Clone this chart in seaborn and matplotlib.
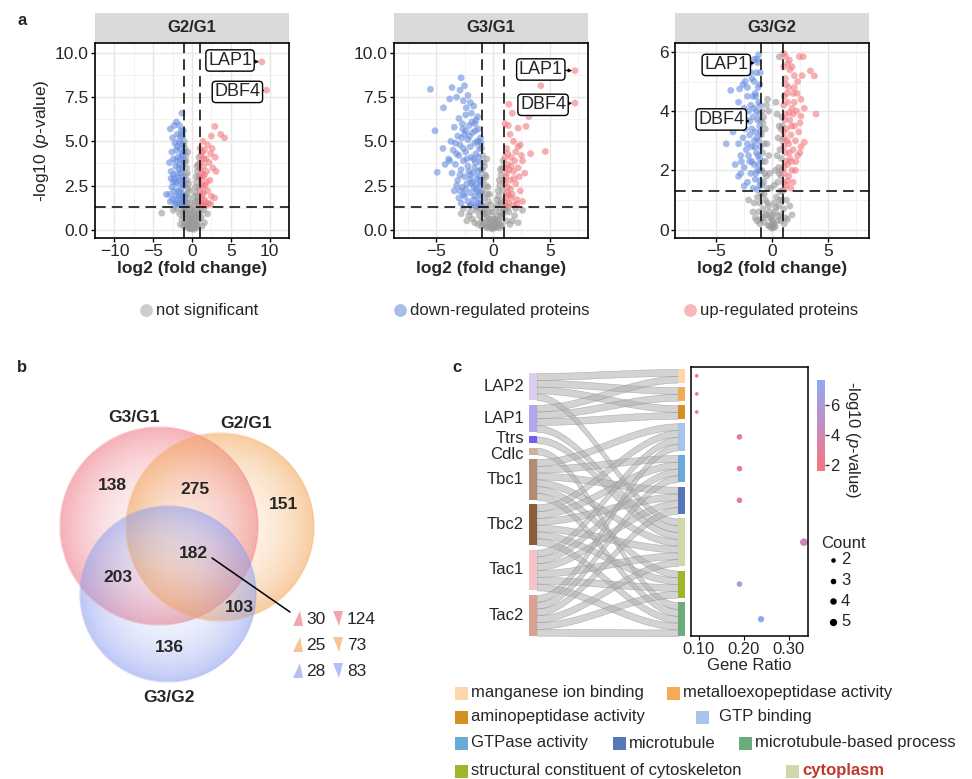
import numpy as np
import pandas as pd
import matplotlib
matplotlib.use("Agg")
import matplotlib.pyplot as plt
import seaborn as sns
from matplotlib.patches import Circle, Rectangle, Polygon
from matplotlib.colors import LinearSegmentedColormap, Normalize, to_rgb
from matplotlib.cm import ScalarMappable

# ---------------- data ----------------
# panel a : volcano points (log2 fold change, -log10 p)
g2g1_up = [(9.0, 9.5), (4.0, 9.1), (9.6, 7.9), (2.95, 5.85), (3.7, 5.4), (4.2, 5.2), (2.5, 5.3), (1.4, 5.0),
           (2.0, 4.8), (2.6, 4.6), (1.6, 4.5), (2.4, 4.3), (1.2, 4.2), (3.0, 4.1), (1.8, 4.0), (2.2, 3.8),
           (1.5, 3.6), (2.7, 3.5), (1.1, 3.4), (1.9, 3.3), (3.1, 3.3), (1.4, 3.0), (2.3, 2.8), (1.2, 2.6),
           (1.7, 2.5), (2.0, 2.2), (1.3, 2.0), (2.5, 1.9), (1.6, 1.7), (2.9, 1.8), (1.1, 1.5), (2.1, 1.5),
           (1.4, 1.4), (1.8, 1.35), (1.05, 4.6), (1.3, 4.4), (1.5, 4.0), (1.05, 3.8), (1.25, 3.2), (1.6, 3.1),
           (1.05, 2.9), (1.45, 2.5), (1.9, 2.7), (1.05, 2.2), (1.5, 2.1), (1.2, 1.8), (1.05, 1.4), (2.4, 1.45),
           (1.7, 1.55)]
g2g1_down = [(-1.3, 6.6), (-2.0, 6.1), (-2.3, 5.9), (-1.6, 5.9), (-2.8, 5.7), (-1.4, 5.6), (-1.9, 5.4),
             (-1.2, 5.3), (-2.5, 5.2), (-1.7, 5.0), (-2.2, 4.9), (-1.1, 4.8), (-1.5, 4.6), (-2.0, 4.5),
             (-2.6, 4.4), (-1.3, 4.3), (-1.8, 4.1), (-2.4, 4.0), (-1.1, 3.9), (-2.9, 3.8), (-1.6, 3.7),
             (-2.1, 3.6), (-1.3, 3.4), (-2.7, 3.3), (-1.9, 3.2), (-1.2, 3.0), (-2.3, 2.9), (-1.6, 2.8),
             (-2.0, 2.6), (-1.1, 2.5), (-2.6, 2.4), (-1.4, 2.3), (-1.8, 2.2), (-3.3, 2.0), (-2.9, 2.0),
             (-1.2, 2.0), (-2.2, 1.9), (-1.5, 1.8), (-2.5, 1.7), (-1.1, 1.6), (-1.9, 1.5), (-1.3, 1.4),
             (-2.1, 2.7), (-1.7, 3.5), (-2.4, 3.1), (-1.4, 4.9), (-1.9, 4.7), (-1.2, 4.2), (-2.2, 1.4),
             (-2.8, 1.6), (-1.05, 4.4), (-1.5, 4.0), (-2.0, 3.9), (-1.2, 3.6), (-1.45, 3.2), (-1.75, 2.95),
             (-1.05, 2.8), (-2.45, 2.7), (-1.3, 2.6), (-1.55, 2.1), (-1.05, 1.9), (-1.7, 1.9), (-1.25, 1.7),
             (-2.0, 1.6), (-1.6, 1.45), (-1.05, 1.35), (-2.3, 2.2), (-2.7, 2.9), (-1.5, 5.3), (-1.1, 5.6)]
g2g1_ns = [(-1.0, 5.0), (-0.9, 4.6), (-0.8, 4.2), (-0.95, 3.8), (-0.7, 3.5), (-0.85, 3.1), (-0.6, 2.8),
           (-0.9, 2.5), (-0.5, 2.3), (-0.75, 2.0), (-0.4, 1.8), (-0.95, 1.6), (-0.6, 1.5), (-0.3, 1.2),
           (-0.8, 1.1), (-0.5, 0.9), (-0.2, 0.8), (-1.0, 0.7), (-0.7, 0.6), (-0.35, 0.5), (-0.15, 0.3),
           (-0.55, 0.3), (-0.9, 0.4), (0.9, 4.1), (0.8, 3.7), (0.7, 3.3), (0.95, 3.0), (0.6, 2.7),
           (0.85, 2.4), (0.5, 2.1), (0.75, 1.9), (0.4, 1.6), (0.9, 1.4), (0.6, 1.2), (0.3, 1.0), (0.8, 0.9),
           (0.5, 0.7), (0.2, 0.5), (0.7, 0.5), (0.95, 0.6), (0.4, 0.3), (0.1, 0.2), (0.0, 0.1), (-0.1, 0.05),
           (0.15, 0.1), (0.05, 0.35), (-0.25, 0.15), (0.3, 0.15), (-0.05, 0.6), (0.1, 0.9), (-0.45, 0.1),
           (0.55, 0.1), (-3.9, 0.94), (-2.4, 1.1), (-1.6, 0.9), (-1.3, 0.6), (-1.9, 1.2), (1.5, 1.1),
           (1.2, 0.7), (2.0, 0.9), (-1.2, 1.0), (1.6, 0.4), (-1.5, 0.3), (1.3, 0.2), (-1.1, 0.2),
           (-0.3, 2.2), (-0.45, 2.6), (-0.6, 3.2), (-0.75, 3.9), (-0.55, 4.4), (-0.2, 1.5), (-0.1, 1.1),
           (0.25, 1.3), (0.35, 1.9), (0.45, 2.4), (0.55, 3.0), (0.65, 3.6), (0.2, 0.7), (-0.4, 0.7),
           (-0.6, 0.15), (0.6, 0.25), (0.8, 0.2), (-0.8, 0.3), (-0.25, 0.4), (0.35, 0.45), (-0.05, 0.25),
           (0.05, 0.15), (-0.7, 0.9), (0.7, 0.8), (-0.9, 1.0), (0.9, 0.9), (-1.05, 1.2), (1.05, 1.1),
           (-0.65, 1.3), (0.65, 1.6), (-0.3, 0.05), (0.25, 0.02), (-0.85, 1.9), (0.85, 1.7)]

g3g1_up = [(7.2, 9.0), (7.2, 7.17), (4.2, 8.15), (1.4, 7.1), (2.6, 7.4), (3.15, 6.4), (2.9, 5.85), (2.2, 5.75),
           (1.05, 6.0), (4.6, 4.43), (3.3, 4.3), (1.5, 5.4), (1.8, 5.0), (2.4, 4.8), (1.2, 4.6), (2.0, 4.4),
           (1.6, 4.1), (2.6, 3.9), (1.3, 3.7), (2.2, 3.5), (1.8, 3.3), (2.8, 3.2), (1.1, 3.0), (1.5, 2.8),
           (2.0, 2.6), (1.3, 2.4), (2.4, 2.2), (1.7, 2.0), (1.1, 1.8), (2.1, 1.7), (1.4, 1.5), (2.6, 1.6),
           (1.8, 1.4), (1.2, 1.35), (2.3, 3.0), (1.6, 3.6), (2.5, 4.2), (1.05, 4.1), (1.3, 4.3), (1.05, 3.5),
           (1.2, 3.2), (1.4, 3.4), (1.05, 2.6), (1.25, 2.1), (1.05, 1.55), (1.55, 2.3), (1.85, 2.9),
           (1.6, 1.8), (1.35, 1.95), (1.9, 3.9), (2.2, 4.7), (1.35, 5.9), (1.7, 6.6), (2.1, 1.45)]
g3g1_down = [(-5.5, 7.95), (-5.1, 5.6), (-4.9, 3.25), (-4.2, 3.7), (-4.35, 6.9), (-3.6, 8.05), (-2.8, 8.6),
             (-2.9, 7.9), (-2.5, 8.15), (-3.8, 7.4), (-3.2, 7.5), (-2.6, 7.3), (-2.2, 7.6), (-2.0, 7.2),
             (-1.7, 7.0), (-1.9, 6.6), (-2.4, 6.5), (-3.0, 6.3), (-1.5, 6.2), (-2.7, 6.0), (-2.1, 5.9),
             (-3.4, 5.8), (-1.3, 5.7), (-1.8, 5.5), (-2.5, 5.4), (-3.1, 5.3), (-1.1, 5.2), (-2.2, 5.1),
             (-3.7, 5.0), (-1.6, 4.9), (-2.9, 4.8), (-2.0, 4.7), (-1.2, 4.6), (-3.5, 4.5), (-2.4, 4.4),
             (-1.5, 4.3), (-3.0, 4.2), (-1.9, 4.1), (-2.6, 3.9), (-1.1, 3.8), (-3.3, 3.7), (-2.2, 3.6),
             (-1.6, 3.5), (-2.8, 3.4), (-1.3, 3.3), (-3.6, 3.2), (-2.0, 3.1), (-2.5, 3.0), (-1.4, 2.9),
             (-3.1, 2.8), (-1.8, 2.7), (-2.3, 2.6), (-1.1, 2.5), (-2.7, 2.4), (-1.5, 2.3), (-3.4, 2.2),
             (-2.0, 2.1), (-1.2, 2.0), (-2.5, 1.9), (-3.0, 1.8), (-1.7, 1.7), (-2.2, 1.6), (-1.3, 1.5),
             (-2.8, 1.5), (-1.9, 1.4), (-1.5, 1.35), (-2.4, 5.6), (-1.4, 5.0), (-2.6, 4.6), (-1.7, 4.0),
             (-2.1, 3.3), (-2.9, 3.1), (-1.4, 2.2), (-2.6, 2.0), (-1.9, 2.6), (-3.2, 2.5), (-1.2, 3.0),
             (-2.3, 4.0), (-3.9, 4.0), (-1.6, 6.0), (-1.05, 4.9), (-1.25, 4.1), (-1.55, 3.8), (-1.05, 3.4),
             (-1.75, 3.2), (-1.1, 2.8), (-1.35, 2.6), (-1.05, 2.1), (-1.6, 1.9), (-1.15, 1.7), (-1.05, 1.45),
             (-2.0, 1.35), (-3.3, 4.9), (-2.75, 5.2), (-3.2, 4.3), (-2.05, 5.3), (-1.35, 6.4), (-2.35, 6.9),
             (-1.85, 6.1), (-2.65, 5.7), (-1.55, 5.6), (-1.2, 5.0), (-3.8, 3.9), (-4.4, 4.6), (-2.4, 2.3),
             (-2.0, 2.85), (-2.9, 2.2), (-1.7, 2.4)]
g3g1_ns = [(-1.0, 4.6), (-0.9, 4.2), (-0.8, 3.8), (-0.95, 3.4), (-0.7, 3.1), (-0.85, 2.8), (-0.6, 2.5),
           (-0.9, 2.2), (-0.5, 2.0), (-0.75, 1.8), (-0.4, 1.6), (-0.95, 1.4), (-0.6, 1.2), (-0.3, 1.0),
           (-0.8, 0.9), (-0.5, 0.7), (-0.2, 0.6), (-1.0, 0.5), (-0.7, 0.4), (-0.35, 0.3), (-0.15, 0.2),
           (0.9, 3.9), (0.8, 3.5), (0.7, 3.1), (0.95, 2.8), (0.6, 2.5), (0.85, 2.2), (0.5, 1.9), (0.75, 1.6),
           (0.4, 1.4), (0.9, 1.2), (0.6, 1.0), (0.3, 0.8), (0.8, 0.7), (0.5, 0.5), (0.2, 0.3), (0.7, 0.3),
           (0.0, 0.1), (-0.1, 0.05), (0.15, 0.1), (0.05, 0.35), (-0.25, 0.15), (0.3, 0.15), (0.1, 0.6),
           (-0.45, 0.1), (0.55, 0.1), (-1.5, 1.1), (-2.0, 1.0), (-2.6, 1.2), (-1.2, 0.8), (-1.8, 0.6),
           (1.4, 1.0), (1.9, 0.8), (2.6, 1.1), (1.2, 0.5), (-1.3, 0.3), (1.5, 0.3), (-2.3, 0.5), (2.2, 0.4),
           (-0.3, 2.0), (-0.45, 2.4), (-0.6, 3.0), (-0.75, 3.6), (-0.55, 4.0), (-0.2, 1.4), (-0.1, 1.0),
           (0.25, 1.2), (0.35, 1.7), (0.45, 2.2), (0.55, 2.8), (0.65, 3.4), (0.2, 0.6), (-0.4, 0.6),
           (-0.6, 0.15), (0.6, 0.25), (0.8, 0.2), (-0.8, 0.3), (-0.25, 0.4), (0.35, 0.45), (-0.05, 0.25),
           (0.05, 0.15), (-0.7, 0.9), (0.7, 0.8), (-0.9, 1.0), (0.9, 0.9), (-1.1, 1.2), (1.05, 1.1),
           (-0.65, 1.3), (0.65, 1.5), (-1.6, 0.4), (-2.1, 0.8), (1.7, 0.5), (-1.4, 1.25), (1.3, 1.25),
           (-2.8, 0.9), (-1.0, 0.2), (2.0, 1.2)]

g3g2_up = [(1.05, 5.95), (1.56, 5.72), (2.45, 5.84), (2.8, 5.84), (3.44, 5.36), (3.8, 5.19), (3.95, 3.9),
           (2.9, 2.95), (2.6, 2.8), (2.6, 3.83), (2.15, 2.3), (1.6, 5.4), (2.0, 5.2), (1.2, 5.1), (2.3, 5.0),
           (1.5, 4.8), (1.9, 4.6), (1.1, 4.5), (2.6, 4.4), (1.4, 4.3), (1.8, 4.1), (2.2, 4.0), (1.2, 3.9),
           (1.6, 3.7), (2.0, 3.5), (1.3, 3.4), (2.4, 3.3), (1.7, 3.2), (1.1, 3.1), (2.1, 3.0), (1.5, 2.9),
           (1.9, 2.7), (1.2, 2.6), (2.3, 2.5), (1.6, 2.4), (1.4, 2.2), (1.8, 2.0), (1.1, 1.9), (1.5, 1.8),
           (1.9, 1.6), (1.3, 1.5), (1.7, 1.4), (1.1, 1.35), (2.0, 4.8), (1.4, 5.6), (2.5, 3.6), (1.9, 3.9),
           (1.05, 5.5), (1.25, 4.9), (1.05, 4.2), (1.35, 4.6), (1.15, 3.7), (1.55, 3.95), (1.05, 3.3),
           (1.35, 3.0), (1.75, 3.5), (1.05, 2.8), (1.25, 2.3), (1.55, 2.6), (1.05, 2.1), (1.4, 1.65),
           (1.75, 2.3), (1.05, 1.6), (2.1, 2.0), (2.0, 4.3), (2.7, 5.2), (1.8, 5.5), (2.25, 4.6), (2.9, 4.1),
           (1.2, 5.85), (2.5, 2.6)]
g3g2_down = [(-1.3, 5.64), (-2.0, 3.66), (-1.2, 5.9), (-1.6, 5.75), (-2.0, 5.6), (-2.3, 5.4), (-1.4, 5.3),
             (-1.8, 5.1), (-1.1, 4.9), (-2.6, 4.9), (-3.7, 4.7), (-2.9, 4.75), (-1.5, 4.6), (-2.2, 4.5),
             (-1.2, 4.3), (-1.9, 4.2), (-2.5, 4.1), (-1.4, 4.0), (-3.2, 3.9), (-1.7, 3.8), (-2.3, 3.7),
             (-1.1, 3.5), (-2.8, 3.5), (-3.5, 3.3), (-1.5, 3.3), (-2.0, 3.2), (-2.6, 3.1), (-1.2, 3.0),
             (-4.1, 2.9), (-3.0, 2.9), (-1.8, 2.8), (-2.3, 2.7), (-1.4, 2.6), (-2.8, 2.5), (-1.1, 2.4),
             (-2.0, 2.3), (-1.6, 2.2), (-2.5, 2.1), (-1.3, 2.0), (-1.9, 1.9), (-3.0, 1.8), (-1.5, 1.7),
             (-2.2, 1.6), (-2.5, 1.47), (-1.1, 1.5), (-1.7, 1.4), (-1.3, 1.35), (-2.4, 5.0), (-1.7, 4.5),
             (-2.1, 4.0), (-1.3, 3.7), (-2.7, 3.9), (-1.6, 3.0), (-2.1, 2.5), (-1.2, 2.2), (-2.8, 1.9),
             (-1.05, 5.3), (-1.25, 4.8), (-1.05, 4.2), (-1.45, 4.5), (-1.15, 3.9), (-1.6, 4.1), (-1.05, 3.3),
             (-1.35, 3.1), (-1.8, 3.4), (-1.05, 2.8), (-1.25, 2.5), (-1.55, 2.8), (-1.05, 2.0), (-1.45, 1.9),
             (-1.8, 2.3), (-1.05, 1.65), (-2.2, 2.9), (-2.4, 3.4), (-1.9, 5.3), (-1.6, 5.0), (-2.2, 4.8),
             (-3.0, 4.3), (-1.35, 5.75), (-2.75, 2.3), (-3.3, 2.2)]
g3g2_ns = [(0.66, 5.83), (-0.9, 4.0), (-0.8, 3.6), (-0.95, 3.2), (-0.7, 2.9), (-0.85, 2.6), (-0.6, 2.3),
           (-0.9, 2.0), (-0.5, 1.8), (-0.75, 1.6), (-0.4, 1.4), (-0.95, 1.2), (-0.6, 1.0), (-0.3, 0.8),
           (-0.8, 0.7), (-0.5, 0.5), (-0.2, 0.4), (-1.0, 0.35), (-0.7, 0.25), (-0.35, 0.15), (0.9, 3.8),
           (0.8, 3.4), (0.95, 3.0), (0.7, 2.7), (0.85, 2.4), (0.6, 2.1), (0.8, 1.8), (0.5, 1.6), (0.7, 1.3),
           (0.4, 1.1), (0.9, 1.0), (0.6, 0.8), (0.3, 0.6), (0.8, 0.5), (0.5, 0.3), (0.2, 0.2), (0.0, 0.05),
           (-0.1, 0.1), (0.15, 0.08), (0.05, 0.3), (-0.2, 0.12), (0.3, 0.1), (0.1, 0.5), (-1.3, 1.1),
           (-1.6, 0.9), (-2.1, 1.0), (-1.2, 0.6), (-1.5, 0.4), (1.3, 1.0), (1.6, 0.8), (1.2, 0.4),
           (-1.1, 0.2), (1.1, 0.2), (-0.4, 4.4), (-0.3, 4.0), (0.35, 4.3), (-0.3, 2.5), (-0.45, 2.9),
           (-0.6, 3.4), (-0.75, 3.8), (-0.2, 1.9), (-0.1, 1.4), (0.2, 1.5), (0.3, 2.0), (0.45, 2.5),
           (0.55, 3.1), (0.65, 3.5), (0.2, 0.9), (-0.4, 0.9), (-0.6, 0.5), (0.6, 0.45), (0.8, 0.3),
           (-0.8, 0.4), (-0.25, 0.6), (0.35, 0.75), (-0.05, 0.4), (0.05, 0.2), (-0.7, 1.2), (0.7, 1.0),
           (-0.9, 1.5), (0.9, 1.3), (-1.1, 0.9), (1.05, 0.7), (-0.65, 1.9), (0.65, 1.9), (-0.85, 2.3),
           (0.85, 2.0), (-1.0, 3.7), (0.95, 3.5), (-0.5, 4.2), (0.45, 3.9), (-1.7, 0.6), (1.8, 0.5),
           (-1.35, 0.3), (1.4, 0.35)]

# labelled proteins: (name, x, y)
g2g1_labels = [("LAP1", 9.0, 9.5), ("DBF4", 9.6, 7.9)]
g3g1_labels = [("LAP1", 7.2, 9.0), ("DBF4", 7.2, 7.17)]
g3g2_labels = [("LAP1", -1.3, 5.64), ("DBF4", -2.0, 3.66)]

# panel b : venn counts
venn_sets = ["G3/G1", "G2/G1", "G3/G2"]
venn_counts = ["138", "275", "151", "182", "203", "103", "136"]
core_up = [30, 25, 28]
core_down = [124, 73, 83]

# panel c : sankey + enrichment
genes = ["LAP2", "LAP1", "Ttrs", "Cdlc", "Tbc1", "Tbc2", "Tac1", "Tac2"]
gene_colors = ["#dacdf0", "#b1a9ef", "#6f5ff2", "#cbb09e", "#b08c77", "#8c5b38", "#f3c3c6", "#d9a292"]
terms = ["manganese ion binding", "metalloexopeptidase activity", "aminopeptidase activity", "GTP binding",
         "GTPase activity", "microtubule", "cytoplasm", "structural constituent of cytoskeleton",
         "microtubule-based process"]
term_colors = ["#fdd6ac", "#f3ab57", "#d4911f", "#a6c3ec", "#6ba9d9", "#5877bb", "#cfd7ab", "#9cb828", "#6cab7a"]
gene_terms = {
    "LAP2": [0, 1, 2, 6],
    "LAP1": [0, 1, 2, 6],
    "Ttrs": [6],
    "Cdlc": [8],
    "Tbc1": [3, 4, 5, 6, 7, 8],
    "Tbc2": [3, 4, 5, 6, 7, 8],
    "Tac1": [3, 4, 5, 6, 7, 8],
    "Tac2": [3, 4, 5, 6, 7, 8],
}
term_count = [2, 2, 2, 4, 4, 4, 7, 4, 5]
gene_ratio = [0.095, 0.095, 0.095, 0.19, 0.19, 0.19, 0.333, 0.19, 0.238]
term_logp = [1.8, 1.8, 1.8, 2.6, 2.6, 2.6, 4.4, 6.2, 7.4]

# ---------------- style ----------------
sns.set_style("white")
plt.rcParams["font.family"] = ["Liberation Sans", "DejaVu Sans"]
plt.rcParams["mathtext.fontset"] = "custom"
plt.rcParams["mathtext.it"] = "Liberation Sans:italic"
plt.rcParams["mathtext.rm"] = "Liberation Sans"

W, H = 972, 779
fig = plt.figure(figsize=(W / 100, H / 100), dpi=100)


def px_rect(x0, y0, x1, y1):
    return [x0 / W, 1 - y1 / H, (x1 - x0) / W, (y1 - y0) / H]


# full-figure canvas in pixel units
cv = fig.add_axes([0, 0, 1, 1])
cv.set_xlim(0, W)
cv.set_ylim(H, 0)
cv.axis("off")

pal = {"ns": "#9a9a9a", "down": "#6a8fe0", "up": "#f27b80"}
pal_legend = {"ns": "#cdcdcd", "down": "#aabde9", "up": "#f7b6b8"}


def volcano(x0, title, up, down, ns, labels, label_pos, xlim, ylim, xmaj, ymaj, yfmt, ylabel):
    ax = fig.add_axes(px_rect(x0, 43, x0 + 194, 238))
    rows = [(x, y, "ns") for x, y in ns] + [(x, y, "down") for x, y in down] + [(x, y, "up") for x, y in up]
    df = pd.DataFrame(rows, columns=["lfc", "nlp", "group"])
    sns.scatterplot(data=df, x="lfc", y="nlp", hue="group", palette=pal, s=24, alpha=0.6,
                    linewidth=0, legend=False, ax=ax, zorder=3)
    dash = (0, (7, 4))
    for v in (-1, 1):
        ax.axvline(v, color="black", lw=1.1, ls=dash, zorder=4)
    ax.axhline(-np.log10(0.05), color="black", lw=1.1, ls=dash, zorder=4)
    ax.set_xlim(*xlim)
    ax.set_ylim(*ylim)
    ax.set_xticks(xmaj)
    ax.set_yticks(ymaj)
    ax.set_xticks([(a + b) / 2 for a, b in zip(xmaj[:-1], xmaj[1:])] +
                  [xmaj[0] - (xmaj[1] - xmaj[0]) / 2, xmaj[-1] + (xmaj[1] - xmaj[0]) / 2], minor=True)
    ax.set_yticks([(a + b) / 2 for a, b in zip(ymaj[:-1], ymaj[1:])], minor=True)
    ax.set_yticklabels([yfmt.format(v) for v in ymaj])
    ax.set_xticklabels([f"{v:g}".replace("-", "\u2212") for v in xmaj])
    ax.grid(which="major", color="#e6e6e6", lw=1.0)
    ax.grid(which="minor", color="#f0f0f0", lw=0.6)
    ax.set_axisbelow(True)
    ax.tick_params(which="major", direction="out", length=3, width=1, color="black",
                   labelsize=12.5, pad=1.5, left=True, bottom=True)
    ax.tick_params(which="minor", length=0)
    for s in ax.spines.values():
        s.set_color("black")
        s.set_linewidth(1.2)
    ax.set_xlabel("log2 (fold change)", fontsize=12.5, fontweight="bold", labelpad=1)
    ax.set_ylabel(ylabel, fontsize=12.5, labelpad=3)
    ax.add_patch(Rectangle((0, 1.0), 1, 30 / 195, transform=ax.transAxes, clip_on=False,
                           fc="#dadada", ec="none"))
    ax.text(0.5, 1 + 15 / 195, title, transform=ax.transAxes, ha="center", va="center",
            fontsize=12, fontweight="bold")
    for (name, px, py), (tx, ty) in zip(labels, label_pos):
        ax.annotate(name, xy=(px, py), xytext=(tx, ty), ha="center", va="center", fontsize=13, zorder=6,
                    bbox=dict(boxstyle="round,pad=0.12,rounding_size=0.2", fc="white", ec="black", lw=1),
                    arrowprops=dict(arrowstyle="-|>", color="black", lw=0.8, mutation_scale=5,
                                    shrinkA=0, shrinkB=2))
    return ax


ax1 = volcano(95, "G2/G1", g2g1_up, g2g1_down, g2g1_ns, g2g1_labels, [(4.9, 9.58), (5.85, 7.8)],
              (-10.95, 11.1), (-0.47, 10.57), [-10, -5, 0, 5, 10], [0, 2.5, 5, 7.5, 10], "{:.1f}",
              "-log10 ($\\it{p}$-value)")
ax2 = volcano(394, "G3/G1", g3g1_up, g3g1_down, g3g1_ns, g3g1_labels, [(4.2, 9.07), (4.4, 7.07)],
              (-8.7, 8.35), (-0.47, 10.57), [-5, 0, 5], [0, 2.5, 5, 7.5, 10], "{:.1f}", "")
ax3 = volcano(675, "G3/G2", g3g2_up, g3g2_down, g3g2_ns, g3g2_labels, [(-4.1, 5.56), (-4.55, 3.72)],
              (-8.7, 8.7), (-0.28, 6.3), [-5, 0, 5], [0, 2, 4, 6], "{:g}", "")

# panel a legend
leg_a = [("ns", "not significant", 146), ("down", "down-regulated proteins", 400), ("up", "up-regulated proteins", 690)]
for key, lab, lx in leg_a:
    cv.scatter([lx], [310], s=85, color=pal_legend[key], lw=0, zorder=5)
    cv.text(lx + 10, 310, lab, fontsize=12, va="center", ha="left")

# ---------------- panel b : venn ----------------
def gradient_circle(ax, cx, cy, r, color, a_in=0.10, a_out=0.58):
    n = 300
    g = np.linspace(-1, 1, n)
    xx, yy = np.meshgrid(g, g)
    d = np.hypot(xx, yy)
    img = np.zeros((n, n, 4))
    img[..., :3] = to_rgb(color)
    img[..., 3] = np.where(d <= 1, a_in + (a_out - a_in) * d ** 2.2, 0)
    im = ax.imshow(img, extent=(cx - r, cx + r, cy + r, cy - r), interpolation="bilinear",
                   aspect="auto", zorder=1)
    im.set_clip_path(Circle((cx, cy), r, transform=ax.transData))
    ax.add_patch(Circle((cx, cy), r, fill=False, ec=color, lw=1, alpha=0.35, zorder=2))


venn_colors = ["#ee7783", "#f3a659", "#8d9ff0"]
venn_geom = [(159, 526, 99), (220, 527, 94), (168, 594, 88)]
for (cx, cy, r), col in zip(venn_geom, venn_colors):
    gradient_circle(cv, cx, cy, r, col)
cv.set_xlim(0, W)
cv.set_ylim(H, 0)

for name, (tx, ty) in zip(venn_sets, [(134, 417), (246, 423), (169, 697)]):
    cv.text(tx, ty, name, fontsize=12.5, fontweight="bold", ha="center", va="center", zorder=5)
for num, (tx, ty) in zip(venn_counts, [(112, 485), (195, 489), (283, 504), (193, 553), (118, 577),
                                       (239, 607), (169, 647)]):
    cv.text(tx, ty, num, fontsize=12.5, fontweight="bold", ha="center", va="center", zorder=5)
cv.plot([212, 290], [558, 612], color="black", lw=1.1, zorder=5)

for i, (u, d, col) in enumerate(zip(core_up, core_down, venn_colors)):
    yc = 619 + i * 26
    cv.add_patch(Polygon([(293, yc + 7), (303, yc + 7), (300, yc - 8)], closed=True, fc=col, ec="none",
                         alpha=0.65, zorder=5))
    cv.text(306, yc, str(u), fontsize=12.5, va="center", ha="left", zorder=5)
    cv.add_patch(Polygon([(333, yc - 8), (343, yc - 8), (339, yc + 7)], closed=True, fc=col, ec="none",
                         alpha=0.65, zorder=5))
    cv.text(347, yc, str(d), fontsize=12.5, va="center", ha="left", zorder=5)

# ---------------- panel c : sankey ----------------
unit, gap = 6.8, 4.5
lx0, lx1 = 529, 536.7
rx0, rx1 = 677.7, 685.3
gene_n = [len(gene_terms[g]) for g in genes]
gene_top = []
y = 373
for n in gene_n:
    gene_top.append(y)
    y += n * unit + gap
term_top = []
y = 369
for n in term_count:
    term_top.append(y)
    y += n * unit + gap
term_mid = [t + n * unit / 2 for t, n in zip(term_top, term_count)]

# slots: at gene side ordered by term, at term side ordered by gene
term_fill = [0] * len(terms)
xs = np.linspace(lx1, rx0, 80)
t = (xs - lx1) / (rx0 - lx1)
sm = 3 * t ** 2 - 2 * t ** 3
for gi, g in enumerate(genes):
    for k, ti in enumerate(sorted(gene_terms[g])):
        ya = gene_top[gi] + k * unit
        yb = term_top[ti] + term_fill[ti] * unit
        term_fill[ti] += 1
        top = ya + (yb - ya) * sm
        cv.fill_between(xs, top, top + unit, color="#b0b0b0", alpha=0.55, lw=0.4,
                        edgecolor=(0.5, 0.5, 0.5, 0.35), zorder=2)

label_shift = {"Ttrs": -1.5, "Cdlc": 3.5}
for gi, g in enumerate(genes):
    cv.add_patch(Rectangle((lx0, gene_top[gi]), lx1 - lx0, gene_n[gi] * unit, fc=gene_colors[gi], ec="none", zorder=3))
    cv.text(524, gene_top[gi] + gene_n[gi] * unit / 2 + label_shift.get(g, 0), g, fontsize=12,
            ha="right", va="center")
for ti in range(len(terms)):
    cv.add_patch(Rectangle((rx0, term_top[ti]), rx1 - rx0, term_count[ti] * unit, fc=term_colors[ti],
                           ec="none", zorder=3))

# dot plot sharing the sankey's pixel y scale
axd = fig.add_axes(px_rect(690.7, 366.7, 808.3, 636))
cmap = LinearSegmentedColormap.from_list("pv", ["#f5767c", "#c48cc0", "#8eaaf4"])
vmin, vmax = 1.6, 7.67
dd = pd.DataFrame({"ratio": gene_ratio, "y": term_mid, "Count": term_count, "logp": term_logp})
sns.scatterplot(data=dd, x="ratio", y="y", hue="logp", palette=cmap, hue_norm=(vmin, vmax),
                size="Count", sizes=(7, 30), size_norm=(2, 7), linewidth=0, legend=False, ax=axd)
axd.set_ylim(636, 366.7)
axd.set_xlim(0.0816, 0.343)
axd.set_xticks([0.10, 0.20, 0.30])
axd.set_xticklabels(["0.10", "0.20", "0.30"])
axd.set_yticks([])
axd.set_ylabel("")
axd.set_xlabel("Gene Ratio", fontsize=12, labelpad=1)
axd.tick_params(axis="x", direction="out", length=3, color="black", labelsize=12, pad=1, bottom=True)
for s in axd.spines.values():
    s.set_color("black")
    s.set_linewidth(1.1)

cax = fig.add_axes(px_rect(817, 380, 825, 471))
cb = fig.colorbar(ScalarMappable(norm=Normalize(vmin, vmax), cmap=cmap), cax=cax, ticks=[2, 4, 6])
cb.outline.set_visible(False)
cax.tick_params(labelsize=12, length=3, width=1, color="#333333", pad=1)
cv.text(852, 440, "-log10 ($\\it{p}$-value)", rotation=270, fontsize=12, ha="center", va="center")

cv.text(821, 543, "Count", fontsize=12, ha="left", va="center")
for k, c in enumerate([2, 3, 4, 5]):
    yy = 560 + k * 20.5
    cv.scatter([833], [yy], s=5.5 * c, color="black", lw=0, zorder=5)
    cv.text(841, yy, str(c), fontsize=12, ha="left", va="center")

# term legend (custom rows)
leg_rows = [(693, [(0, 455), (1, 667)]),
            (717, [(2, 455), (3, 696)]),
            (743, [(4, 455), (5, 613), (8, 739)]),
            (771, [(7, 455), (6, 786)])]
for yy, items in leg_rows:
    for ti, sx in items:
        cv.add_patch(Rectangle((sx, yy - 6.5), 13, 13, fc=term_colors[ti], ec="none"))
        gapx = 23 if ti == 3 else 16
        if ti == 6:
            cv.text(sx + gapx, yy, terms[ti], fontsize=12, fontweight="bold", color="#c0392b", va="center")
        else:
            cv.text(sx + gapx, yy, terms[ti], fontsize=12, va="center")

# panel letters
for letter, (lx, ly) in zip(["a", "b", "c"], [(17, 20), (17, 367), (452, 367)]):
    cv.text(lx, ly, letter, fontsize=12, fontweight="bold", ha="left", va="center")

fig.savefig("out.png", dpi=100)
